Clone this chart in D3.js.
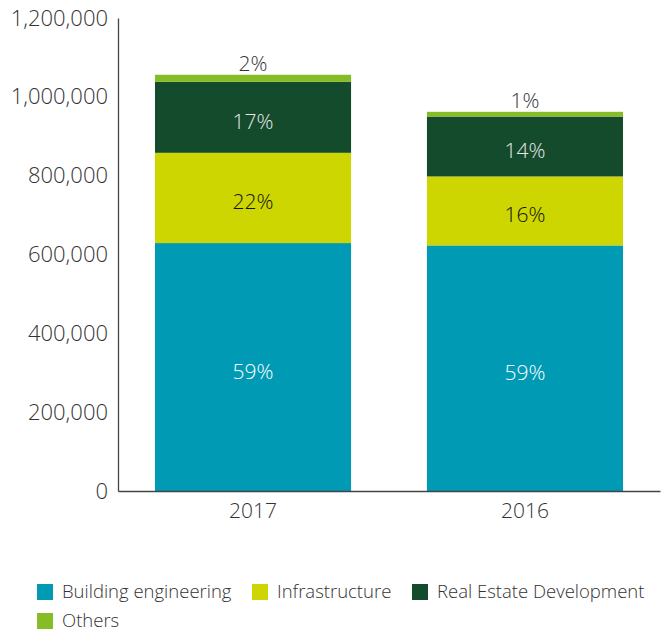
<!DOCTYPE html>
<html>
<head>
<meta charset="utf-8">
<script src="https://cdn.jsdelivr.net/npm/d3@7"></script>
<style>
  body { margin: 0; background: #fff; }
  svg { font-family: "Open Sans", sans-serif; font-weight: 300; }
</style>
</head>
<body>
<svg id="chart" width="665" height="632"></svg>
<script>
const years = ["2017", "2016"];
const seriesNames = ["Building engineering", "Infrastructure", "Real Estate Development", "Others"];
const building = [629000, 623000];
const infrastructure = [229000, 175000];
const realEstate = [180000, 152000];
const others = [18000, 12000];
const shareLabels2017 = ["59%", "22%", "17%", "2%"];
const shareLabels2016 = ["59%", "16%", "14%", "1%"];
const yTicks = [0, 200000, 400000, 600000, 800000, 1000000, 1200000];

const colors = ["#009ab4", "#cdd600", "#144b2c", "#86bc25"];
const labelColors = ["#fff", "#111", "#e8e8e8", "#333"];

const rows = years.map((y, i) => ({
  year: y,
  "Building engineering": building[i],
  "Infrastructure": infrastructure[i],
  "Real Estate Development": realEstate[i],
  "Others": others[i],
  labels: i === 0 ? shareLabels2017 : shareLabels2016
}));

const svg = d3.select("#chart");

const x = d3.scaleBand()
  .domain(years)
  .range([118, 660])
  .paddingInner(0.279)
  .paddingOuter(0.136);

const y = d3.scaleLinear()
  .domain([0, 1200000])
  .range([491, 18]);

const stack = d3.stack().keys(seriesNames)(rows);

const layers = svg.append("g")
  .selectAll("g")
  .data(stack)
  .enter()
  .append("g")
  .attr("fill", (d, i) => colors[i]);

layers.selectAll("rect")
  .data(d => d)
  .enter()
  .append("rect")
  .attr("x", d => x(d.data.year))
  .attr("width", x.bandwidth())
  .attr("y", d => y(d[1]))
  .attr("height", d => y(d[0]) - y(d[1]));

// share labels, the small "Others" slice gets its label above the bar
stack.forEach((layer, si) => {
  svg.append("g")
    .selectAll("text")
    .data(layer)
    .enter()
    .append("text")
    .attr("x", d => x(d.data.year) + x.bandwidth() / 2)
    .attr("y", d => si === 3 ? y(d[1]) - 4 : (y(d[0]) + y(d[1])) / 2)
    .attr("dy", si === 3 ? "0" : "0.55em")
    .attr("text-anchor", "middle")
    .attr("font-size", 21)
    .attr("fill", labelColors[si])
    .text(d => d.data.labels[si]);
});

// axes
const yAxis = svg.append("g")
  .attr("transform", "translate(118,0)")
  .call(d3.axisLeft(y).tickValues(yTicks).tickSize(0).tickPadding(10)
    .tickFormat(d3.format(",")));

const xAxis = svg.append("g")
  .attr("transform", "translate(0,491)")
  .call(d3.axisBottom(x).tickSize(0).tickPadding(12));

yAxis.selectAll("text").attr("font-size", 22);
xAxis.selectAll("text").attr("font-size", 21);

[yAxis, xAxis].forEach(a => {
  a.select(".domain").attr("stroke", "#444").attr("stroke-width", 1.3);
  a.selectAll("text")
    .attr("font-family", "\"Open Sans\", sans-serif")
    .attr("fill", "#333");
});

// legend
const legendPos = [[37, 592], [252, 592], [412, 592], [37, 621]];
const legend = svg.append("g")
  .selectAll("g")
  .data(seriesNames)
  .enter()
  .append("g")
  .attr("transform", (d, i) => "translate(" + legendPos[i][0] + "," + legendPos[i][1] + ")");

legend.append("rect")
  .attr("x", 0)
  .attr("y", -8)
  .attr("width", 16)
  .attr("height", 16)
  .attr("fill", (d, i) => colors[i]);

legend.append("text")
  .attr("x", 25)
  .attr("dy", "0.35em")
  .attr("font-size", 18.5)
  .attr("fill", "#333")
  .text(d => d);
</script>
</body>
</html>
